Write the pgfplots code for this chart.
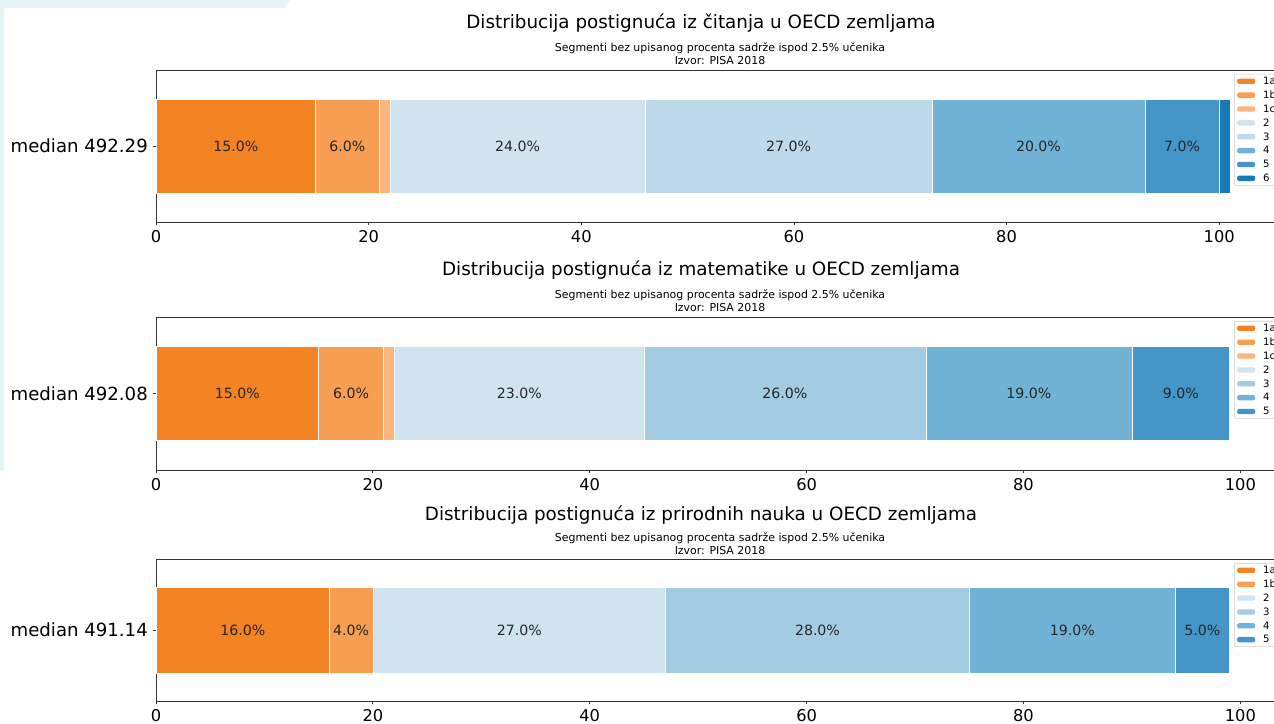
\documentclass[border=0pt]{standalone}
\usepackage{pgfplots}
\pgfplotsset{compat=1.18}
\usepackage{fontspec}
\setmainfont{DejaVu Sans}
\definecolor{ca}{RGB}{244,131,35}
\definecolor{cb}{RGB}{248,158,82}
\definecolor{cc}{RGB}{250,181,128}
\definecolor{bt}{RGB}{208,228,240}
\definecolor{bthreeA}{RGB}{189,217,235}
\definecolor{bthreeB}{RGB}{163,204,227}
\definecolor{bf}{RGB}{113,179,214}
\definecolor{bv}{RGB}{67,150,199}
\definecolor{bs}{RGB}{26,122,183}
\definecolor{deco}{RGB}{228,244,244}
\pgfplotsset{
  panel/.style={
    xbar stacked, scale only axis, width=858pt, xmin=0, ymin=-1, ymax=1,
    ytick={0}, xtick={0,20,40,60,80,100},
    xtick pos=lower, ytick pos=left, tick align=outside, major tick length=2.6pt,
    axis line style={black!80, line width=0.6pt}, tick style={black!80, line width=0.6pt},
    xticklabel style={font=\fontsize{12.2}{14}\selectfont},
    yticklabel style={font=\fontsize{13.6}{15}\selectfont},
    /pgf/number format/assume math mode=true,
    every axis plot/.append style={draw=white, line width=0.4pt},
    legend cell align=left,
    legend image code/.code={\fill[##1,draw=none] (0pt,-2pt) rectangle (13.5pt,2pt);},
    legend style={anchor=north west, draw=black!20, rounded corners=1.5pt,
      font=\fontsize{7.6}{8.5}\selectfont, inner sep=2.2pt, row sep=4.2pt,
      nodes={inner sep=0pt, text height=5.6pt, text depth=0.6pt},
      /tikz/every odd column/.append style={column sep=6pt}},
  },
  labs/.style={hide axis, scale only axis, width=858pt, xmin=0, ymin=-1, ymax=1},
  labplot/.style={only marks, mark=none, nodes near coords, point meta=explicit symbolic,
    every node near coord/.append style={anchor=center, font=\fontsize{10.6}{12}\selectfont, text=black!85}},
}
\begin{document}
\begin{tikzpicture}
\useasboundingbox (0,0) rectangle (1274*0.75pt,-724*0.75pt);
\clip (0,0) rectangle (1274*0.75pt,-724*0.75pt);
\fill[deco] (0,0) -- (290*0.75pt,0) -- (284*0.75pt,-8*0.75pt) -- (4*0.75pt,-8*0.75pt) -- (4*0.75pt,-470*0.75pt) -- (0,-470*0.75pt) -- cycle;

% ---------- Panel 1
\node[font=\fontsize{13.75}{15}\selectfont] at (701*0.75pt,-23*0.75pt) {Distribucija postignuća iz čitanja u OECD zemljama};
\node[font=\fontsize{8.2}{9.75}\selectfont, align=center] at (720*0.75pt,-53.5*0.75pt) {Segmenti bez upisanog procenta sadrže ispod 2.5\% učenika\\Izvor: PISA 2018};
\begin{axis}[panel, at={(156*0.75pt,-222*0.75pt)}, anchor=south west, height=114pt, xmax=107.6,
  bar width=70.5pt, yticklabels={median 492.29}, legend style={at={(0.9423,0.974)}}]
\addplot[fill=ca] coordinates {(15,0)};
\addplot[fill=cb] coordinates {(6,0)};
\addplot[fill=cc] coordinates {(1,0)};
\addplot[fill=bt] coordinates {(24,0)};
\addplot[fill=bthreeA] coordinates {(27,0)};
\addplot[fill=bf] coordinates {(20,0)};
\addplot[fill=bv] coordinates {(7,0)};
\addplot[fill=bs] coordinates {(1,0)};
\legend{1a,1b,1c,2,3,4,5,6}
\end{axis}
\begin{axis}[labs, at={(156*0.75pt,-222*0.75pt)}, anchor=south west, height=114pt, xmax=107.6]
\addplot[labplot] table[meta=lab, row sep=\\] {x y lab\\ 7.5 0 15.0\%\\ 18 0 6.0\%\\ 34 0 24.0\%\\ 59.5 0 27.0\%\\ 83 0 20.0\%\\ 96.5 0 7.0\%\\};
\end{axis}

% ---------- Panel 2
\node[font=\fontsize{13.75}{15}\selectfont] at (701*0.75pt,-270*0.75pt) {Distribucija postignuća iz matematike u OECD zemljama};
\node[font=\fontsize{8.2}{9.75}\selectfont, align=center] at (720*0.75pt,-300.5*0.75pt) {Segmenti bez upisanog procenta sadrže ispod 2.5\% učenika\\Izvor: PISA 2018};
\begin{axis}[panel, at={(156*0.75pt,-470*0.75pt)}, anchor=south west, height=114.75pt, xmax=105.5,
  bar width=70.5pt, yticklabels={median 492.08}, legend style={at={(0.9423,0.974)}}]
\addplot[fill=ca] coordinates {(15,0)};
\addplot[fill=cb] coordinates {(6,0)};
\addplot[fill=cc] coordinates {(1,0)};
\addplot[fill=bt] coordinates {(23,0)};
\addplot[fill=bthreeB] coordinates {(26,0)};
\addplot[fill=bf] coordinates {(19,0)};
\addplot[fill=bv] coordinates {(9,0)};
\legend{1a,1b,1c,2,3,4,5}
\end{axis}
\begin{axis}[labs, at={(156*0.75pt,-470*0.75pt)}, anchor=south west, height=114.75pt, xmax=105.5]
\addplot[labplot] table[meta=lab, row sep=\\] {x y lab\\ 7.5 0 15.0\%\\ 18 0 6.0\%\\ 33.5 0 23.0\%\\ 58 0 26.0\%\\ 80.5 0 19.0\%\\ 94.5 0 9.0\%\\};
\end{axis}

% ---------- Panel 3
\node[font=\fontsize{13.75}{15}\selectfont] at (701*0.75pt,-515*0.75pt) {Distribucija postignuća iz prirodnih nauka u OECD zemljama};
\node[font=\fontsize{8.2}{9.75}\selectfont, align=center] at (720*0.75pt,-544*0.75pt) {Segmenti bez upisanog procenta sadrže ispod 2.5\% učenika\\Izvor: PISA 2018};
\begin{axis}[panel, at={(156*0.75pt,-701*0.75pt)}, anchor=south west, height=106.5pt, xmax=105.5,
  bar width=64.5pt, yticklabels={median 491.14}, legend style={at={(0.9423,0.972)}}]
\addplot[fill=ca] coordinates {(16,0)};
\addplot[fill=cb] coordinates {(4,0)};
\addplot[fill=bt] coordinates {(27,0)};
\addplot[fill=bthreeB] coordinates {(28,0)};
\addplot[fill=bf] coordinates {(19,0)};
\addplot[fill=bv] coordinates {(5,0)};
\legend{1a,1b,2,3,4,5}
\end{axis}
\begin{axis}[labs, at={(156*0.75pt,-701*0.75pt)}, anchor=south west, height=106.5pt, xmax=105.5]
\addplot[labplot] table[meta=lab, row sep=\\] {x y lab\\ 8 0 16.0\%\\ 18 0 4.0\%\\ 33.5 0 27.0\%\\ 61 0 28.0\%\\ 84.5 0 19.0\%\\ 96.5 0 5.0\%\\};
\end{axis}
\end{tikzpicture}
\end{document}
